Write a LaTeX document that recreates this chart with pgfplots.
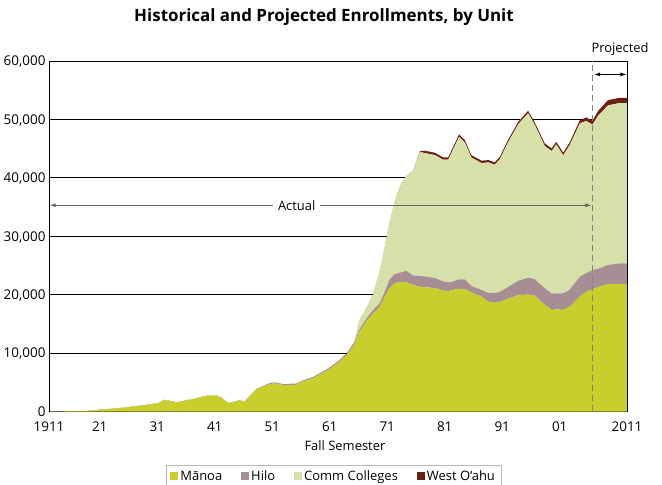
\documentclass[border=0pt]{standalone}
\usepackage{fontspec}
\setmainfont{Open Sans}
\usepackage{pgfplots}
\pgfplotsset{compat=1.18}
\usepackage{pgfplotstable}
\usetikzlibrary{arrows.meta}

\definecolor{manoa}{RGB}{200,206,44}
\definecolor{hilo}{RGB}{166,142,148}
\definecolor{cc}{RGB}{214,224,168}
\definecolor{wo}{RGB}{110,30,20}
\definecolor{annot}{RGB}{100,100,100}
\definecolor{dashg}{RGB}{130,130,130}

% fall enrollment by unit
\pgfplotstableread{
year   manoa hilo cc    wo
1912.2 30    0    0     0
1918.7 60    0    0     0
1921.0 290   0    0     0
1924.5 580   0    0     0
1928.0 980   0    0     0
1931.2 1430  0    0     0
1932.3 2000  0    0     0
1934.3 1550  0    0     0
1937.2 2120  0    0     0
1939.6 2690  0    0     0
1941.3 2740  0    0     0
1942.3 2290  0    0     0
1943.3 1430  0    0     0
1945.3 1890  0    0     0
1946.2 1720  0    0     0
1948.3 3830  50   0     0
1950.6 4700  150  0     0
1951.4 4810  150  0     0
1952.9 4530  150  0     0
1955.2 4580  160  0     0
1956.4 5140  170  0     0
1958.1 5700  180  0     0
1960.4 6930  200  0     0
1962.7 8480  250  0     0
1964.2 9970  300  0     0
1965.3 11500 350  50    0
1966.2 13700 400  1580  0
1967.4 15450 500  1730  0
1968.5 16700 600  2650  0
1969.7 17960 570  5415  0
1970.6 19670 900  7650  0
1971.4 21100 1500 9610  0
1972.3 22000 1500 12420 0
1973.2 22200 1575 14710 0
1974.3 22150 1910 16245 0
1975.5 21650 1650 17920 0
1976.7 21340 1860 21230 150
1977.5 21290 1830 21120 400
1979.3 21120 1720 21055 400
1980.7 20720 1580 20800 400
1981.6 20600 1500 21000 400
1982.4 20810 1425 22515 400
1983.5 21000 1635 24395 400
1984.5 20950 1685 23425 400
1985.6 20400 1100 22000 400
1987.4 19670 1140 21720 400
1988.6 18800 1500 22340 400
1989.7 18600 1700 21940 400
1990.6 18760 1710 22740 400
1992.0 19280 2020 24760 400
1993.8 19950 2450 26795 400
1995.5 20000 2900 28175 400
1996.6 19900 2800 26495 400
1998.4 18250 2850 24340 450
1999.6 17380 2770 24435 450
2000.4 17500 2740 25485 450
2001.6 17390 2850 23605 450
2002.7 17900 2900 24755 450
2004.5 19700 3390 26240 550
2005.6 20500 3200 26040 600
2006.7 20900 3300 24920 650
2007.7 21300 3150 26230 800
2009.4 21800 3300 27300 900
2011.4 21840 3510 27450 900
2012.7 21840 3530 27430 900
}\enroll

\begin{document}
\begin{tikzpicture}[font=\fontsize{13}{15}\selectfont]
\begin{axis}[
    scale only axis,
    width=578bp, height=350.5bp,
    xmin=1912.18, xmax=2012.7,
    ymin=0, ymax=60000,
    xtick={1912.18,1921,1931,1941,1951,1961,1971,1981,1991,2001,2012.7},
    xticklabels={1911,21,31,41,51,61,71,81,91,01,2011},
    ytick={0,10000,20000,30000,40000,50000,60000},
    scaled y ticks=false,
    /pgf/number format/1000 sep={,},
    /pgf/number format/assume math mode=true,
    tick label style={font=\fontsize{13.5}{15}\selectfont},
    xticklabel style={anchor=base, yshift=-20.2bp},
    yticklabel style={anchor=base east, yshift=-4.8bp},
    major tick length=0pt,
    axis line style={black, line width=0.9bp},
    xlabel={Fall Semester},
    xlabel style={at={(axis description cs:0.512,-0.0984)}, anchor=center},
    stack plots=y,
    clip=false,
    legend columns=4,
    legend image code/.code={\fill[#1] (0bp,-4bp) rectangle (8bp,4bp);},
    legend style={at={(axis description cs:0.2024,-0.153)}, anchor=north west,
        draw={rgb,255:red,185;green,185;blue,185}, line width=0.8bp,
        font=\fontsize{13}{15}\selectfont,
        inner xsep=4bp, inner ysep=3bp,
        /tikz/every even column/.append style={column sep=17bp}},
]
\addplot[fill=manoa, draw=none, mark=none] table[x=year, y=manoa] {\enroll} \closedcycle;
\addplot[fill=hilo, draw=none, mark=none] table[x=year, y=hilo] {\enroll} \closedcycle;
\addplot[fill=cc, draw=none, mark=none] table[x=year, y=cc] {\enroll} \closedcycle;
\addplot[fill=wo, draw=none, mark=none] table[x=year, y=wo] {\enroll} \closedcycle;
\legend{Mānoa, Hilo, Comm Colleges, West O‘ahu}

% grid line ends: each line stops where the stacked total rises over it
\coordinate (g0) at (axis cs:1912.18,10000);
\coordinate (g1) at (axis cs:1963.94,10000);
\coordinate (h0) at (axis cs:1912.18,20000);
\coordinate (h1) at (axis cs:1968.52,20000);
\coordinate (i0) at (axis cs:1912.18,30000);
\coordinate (i1) at (axis cs:1970.96,30000);
\coordinate (j0) at (axis cs:1912.18,40000);
\coordinate (j1) at (axis cs:1974.12,40000);
\coordinate (k0) at (axis cs:1912.18,50000);
\coordinate (k1) at (axis cs:1994.17,50000);
\coordinate (k2) at (axis cs:1996.36,50000);
\coordinate (k3) at (axis cs:2004.79,50000);
\coordinate (k4) at (axis cs:2006.26,50000);
\coordinate (k5) at (axis cs:2006.83,50000);

% anchor points for the annotations drawn after the axis
\coordinate (bl) at (rel axis cs:0,0);
\coordinate (tl) at (rel axis cs:0,1);
\coordinate (br) at (rel axis cs:1,0);
\coordinate (tr) at (rel axis cs:1,1);
\coordinate (dashb) at (axis cs:2006.74,0);
\coordinate (dasht) at (axis cs:2006.74,60000);
\coordinate (actl) at (axis cs:1912.3,35300);
\coordinate (actr) at (axis cs:2006.5,35300);
\coordinate (actt) at (axis cs:1955.26,35300);
\coordinate (prol) at (axis cs:2007.0,57700);
\coordinate (pror) at (axis cs:2012.6,57700);
\coordinate (prot) at (axis cs:2011.5,61970);
\end{axis}

% visible parts of the horizontal grid
\draw[black, line width=0.9bp] (g0) -- (g1) (h0) -- (h1) (i0) -- (i1) (j0) -- (j1)
    (k0) -- (k1) (k2) -- (k3) (k4) -- (k5);

% box edges on top of the areas
\draw[black, line width=0.9bp] (br) -- (tr);
\draw[black, line width=0.9bp] (bl) -- (tl);
% actual / projected split
\draw[dashg, line width=1.3bp, dash pattern=on 6bp off 4bp] (dashb) -- (dasht);
\draw[annot, line width=0.8bp, {Latex[length=6bp,width=4bp]}-{Latex[length=6bp,width=4bp]}]
    (actl) -- (actr);
\node[fill=white, inner xsep=5bp, inner ysep=1bp] at (actt) {Actual};
\draw[black, line width=0.8bp, {Latex[length=6bp,width=4bp]}-{Latex[length=6bp,width=4bp]}]
    (prol) -- (pror);
\node at (prot) {Projected};

\node[font=\bfseries\fontsize{17}{20}\selectfont] at (275bp,394.5bp)
    {Historical and Projected Enrollments, by Unit};
\pgfresetboundingbox
\path[use as bounding box] (-49bp,-73.5bp) rectangle (613bp,411.5bp);
\end{tikzpicture}
\end{document}
